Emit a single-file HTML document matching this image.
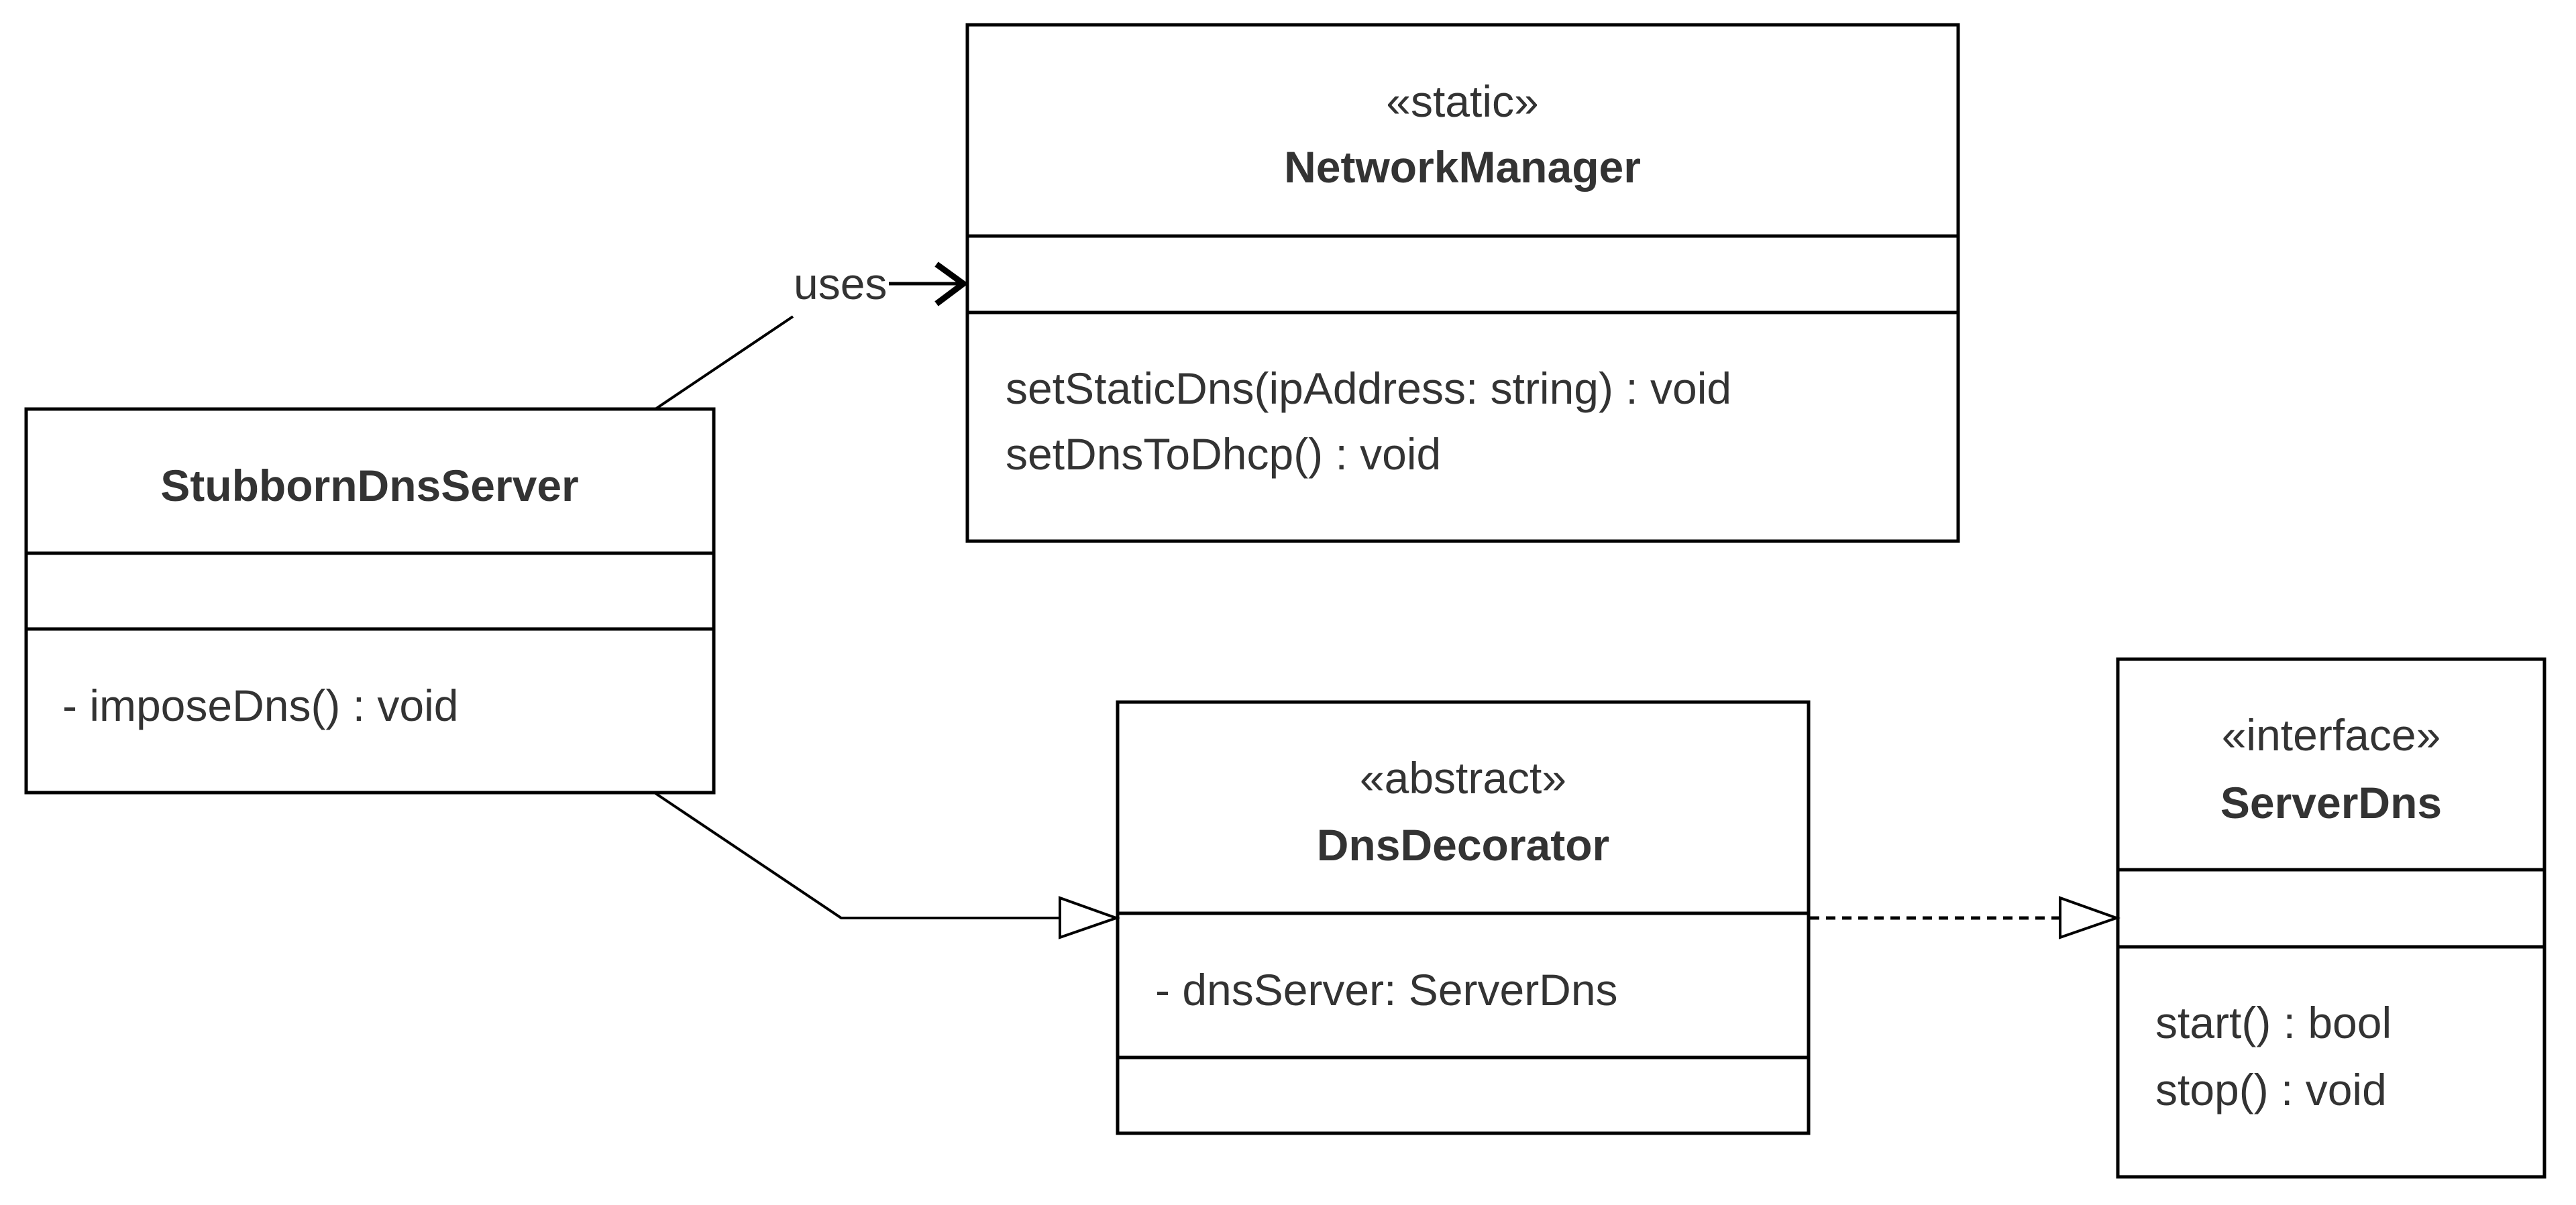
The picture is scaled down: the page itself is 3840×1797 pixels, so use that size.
<!DOCTYPE html>
<html><head><meta charset="utf-8"><style>html,body{margin:0;padding:0;background:#fff}svg{display:block}</style></head><body>
<svg width="3840" height="1797" viewBox="0 0 3840 1797" xmlns="http://www.w3.org/2000/svg" font-family="Liberation Sans, Arial, sans-serif" font-size="66" fill="#333">
<g fill="none" stroke="#000" stroke-width="5">
<rect x="1442" y="37" width="1477" height="770"/>
<line x1="1442" y1="352" x2="2919" y2="352"/>
<line x1="1442" y1="466" x2="2919" y2="466"/>
<rect x="39" y="610" width="1025" height="572"/>
<line x1="39" y1="825" x2="1064" y2="825"/>
<line x1="39" y1="938" x2="1064" y2="938"/>
<rect x="1666" y="1047" width="1030" height="643"/>
<line x1="1666" y1="1362" x2="2696" y2="1362"/>
<line x1="1666" y1="1577" x2="2696" y2="1577"/>
<rect x="3157" y="983" width="636" height="772"/>
<line x1="3157" y1="1297" x2="3793" y2="1297"/>
<line x1="3157" y1="1412" x2="3793" y2="1412"/>
<line x1="977" y1="610" x2="1182" y2="472" stroke-width="4"/>
<line x1="1325" y1="423" x2="1436" y2="423" stroke-width="5"/>
<polyline points="1396,394 1436,423 1396,453" stroke-width="9"/>
<polyline points="977,1183 1254,1369 1580,1369" stroke-width="4"/>
<polygon points="1580,1339 1664,1369 1580,1398" stroke-width="4"/>
<line x1="2698" y1="1369" x2="3071" y2="1369" stroke-width="5" stroke-dasharray="14,10"/>
<polygon points="3071,1339 3155,1369 3071,1398" stroke-width="4"/>
</g>
<text x="1183" y="446">uses</text>
<text x="2180" y="174" text-anchor="middle">«static»</text>
<text x="2180" y="272" text-anchor="middle" font-weight="bold">NetworkManager</text>
<text x="1499" y="602">setStaticDns(ipAddress: string) : void</text>
<text x="1499" y="700">setDnsToDhcp() : void</text>
<text x="551" y="747" text-anchor="middle" font-weight="bold">StubbornDnsServer</text>
<text x="93" y="1075">- imposeDns() : void</text>
<text x="2181" y="1183" text-anchor="middle">«abstract»</text>
<text x="2181" y="1283" text-anchor="middle" font-weight="bold">DnsDecorator</text>
<text x="1722" y="1499">- dnsServer: ServerDns</text>
<text x="3475" y="1119" text-anchor="middle">«interface»</text>
<text x="3475" y="1220" text-anchor="middle" font-weight="bold">ServerDns</text>
<text x="3213" y="1548">start() : bool</text>
<text x="3213" y="1648">stop() : void</text>
</svg>
</body></html>
